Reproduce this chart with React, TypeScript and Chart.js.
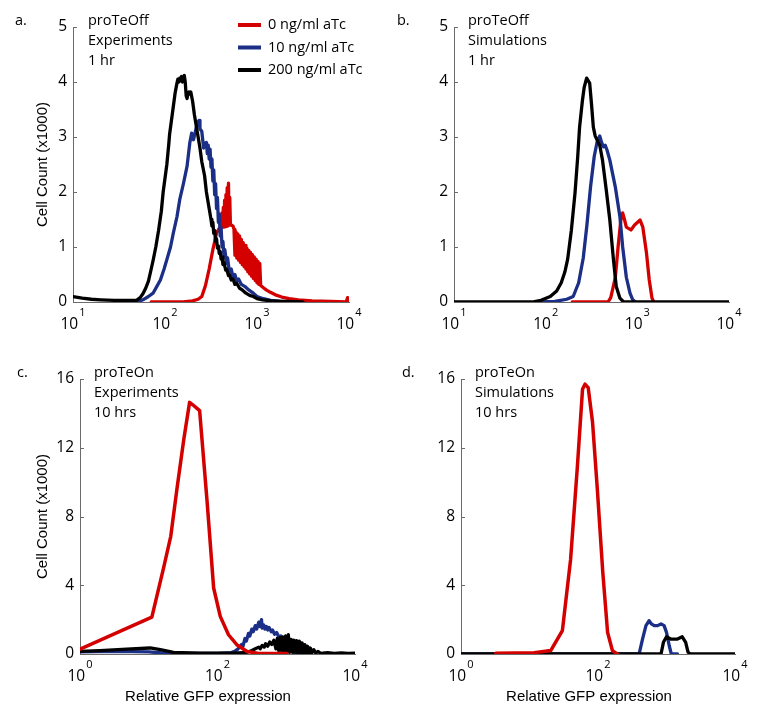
import React, { useEffect, useRef } from "react";
import { Chart, registerables } from "chart.js";

Chart.register(...registerables);

const RED = "#d40000";
const BLUE = "#1b2f86";
const BLACK = "#000000";
const AXIS = "#6b6b6b";

const SERIES_LABELS = ["0 ng/ml aTc", "10 ng/ml aTc", "200 ng/ml aTc"];
const X_TITLE = "Relative GFP expression";
const Y_TITLE = "Cell Count (x1000)";
const Y_TICKS_TOP = [0, 1, 2, 3, 4, 5];
const Y_TICKS_BOTTOM = [0, 4, 8, 12, 16];
const DECADES_TOP = [1, 2, 3, 4];
const DECADES_BOTTOM = [0, 2, 4];

// Each point: [log10 of relative GFP expression, cell count (x1000)]
// a. proTeOff Experiments 1 hr
const aRed: number[][] = [
  [1.85, 0], [2.2, 0], [2.3, 0.02], [2.36, 0.05], [2.4, 0.1], [2.44, 0.3], [2.48, 0.6], [2.52, 0.95],
  [2.56, 1.25], [2.59, 1.34], [2.605, 1.37],
  [2.62, 1.62], [2.627, 1.36], [2.634, 1.72], [2.641, 1.36], [2.648, 1.85], [2.655, 1.37], [2.662, 1.95],
  [2.669, 1.38], [2.676, 2.08], [2.683, 1.38], [2.69, 2.16], [2.697, 1.4], [2.704, 1.9], [2.711, 1.4],
  [2.72, 1.4], [2.74, 1.38],
  [2.75, 1.32], [2.76, 0.85], [2.77, 1.28], [2.78, 0.8], [2.79, 1.24], [2.8, 0.76], [2.81, 1.2], [2.82, 0.72],
  [2.83, 1.14], [2.84, 0.68], [2.85, 1.08], [2.86, 0.64], [2.87, 1.03], [2.88, 0.6], [2.89, 0.98], [2.9, 0.55],
  [2.91, 0.94], [2.92, 0.51], [2.93, 0.9], [2.94, 0.47], [2.95, 0.86], [2.96, 0.43], [2.97, 0.82], [2.98, 0.39],
  [2.99, 0.78], [3.0, 0.35], [3.01, 0.74], [3.02, 0.32], [3.03, 0.7], [3.04, 0.3],
  [3.07, 0.26], [3.1, 0.22], [3.14, 0.18], [3.2, 0.13], [3.27, 0.09], [3.35, 0.06], [3.45, 0.04], [3.6, 0.02],
  [3.8, 0.01], [3.97, 0], [3.985, 0.08], [3.995, 0.02], [4.0, 0],
];
const aBlue: number[][] = [
  [1.7, 0], [1.76, 0.04], [1.82, 0.1], [1.87, 0.16], [1.91, 0.28], [1.95, 0.4], [1.99, 0.6], [2.02, 0.77],
  [2.06, 1.0], [2.09, 1.25], [2.13, 1.55], [2.16, 1.86], [2.2, 2.15], [2.24, 2.47], [2.27, 2.9], [2.29, 3.07],
  [2.31, 2.95], [2.33, 3.1], [2.35, 3.25], [2.37, 3.3], [2.38, 3.15], [2.4, 3.1], [2.42, 2.8], [2.43, 2.88],
  [2.45, 2.9], [2.46, 2.7], [2.47, 2.85], [2.48, 2.6], [2.49, 2.78], [2.5, 2.45], [2.51, 2.6], [2.52, 2.2],
  [2.53, 2.4], [2.54, 1.95], [2.55, 2.15], [2.56, 1.7], [2.57, 1.9], [2.58, 1.45], [2.59, 1.6], [2.6, 1.2],
  [2.61, 1.35], [2.62, 1.0], [2.63, 1.1], [2.64, 0.85], [2.65, 0.95], [2.67, 0.7], [2.68, 0.8], [2.7, 0.55],
  [2.72, 0.6], [2.74, 0.45], [2.76, 0.5], [2.78, 0.38], [2.8, 0.42], [2.83, 0.32], [2.87, 0.28], [2.91, 0.22],
  [2.96, 0.16], [3.0, 0.1], [3.07, 0.06], [3.15, 0.03], [3.25, 0.01], [3.36, 0],
];
const aBlack: number[][] = [
  [1.0, 0.1], [1.1, 0.07], [1.2, 0.05], [1.3, 0.04], [1.45, 0.03], [1.6, 0.03], [1.69, 0.03], [1.73, 0.08],
  [1.76, 0.15], [1.79, 0.25], [1.82, 0.38], [1.85, 0.6], [1.87, 0.75], [1.9, 1.0], [1.93, 1.3], [1.96, 1.65],
  [1.98, 2.0], [2.0, 2.25], [2.02, 2.5], [2.04, 2.85], [2.05, 3.05], [2.07, 3.3], [2.09, 3.55], [2.11, 3.8],
  [2.13, 3.98], [2.14, 4.05], [2.15, 4.0], [2.16, 4.07], [2.17, 4.02], [2.18, 4.1], [2.19, 4.0], [2.2, 4.08],
  [2.21, 4.12], [2.22, 4.0], [2.23, 3.75], [2.24, 3.7], [2.25, 3.8], [2.26, 3.82], [2.27, 3.78], [2.28, 3.82],
  [2.3, 3.65], [2.32, 3.4], [2.34, 3.2], [2.36, 3.0], [2.38, 2.8], [2.4, 2.55], [2.43, 2.3], [2.45, 2.0],
  [2.47, 1.8], [2.49, 1.6], [2.5, 1.5], [2.51, 1.38], [2.52, 1.45], [2.53, 1.25], [2.54, 1.3], [2.55, 1.1],
  [2.56, 1.15], [2.57, 0.98], [2.58, 1.02], [2.59, 0.88], [2.6, 0.92], [2.61, 0.78], [2.62, 0.82], [2.63, 0.68],
  [2.64, 0.72], [2.66, 0.58], [2.67, 0.6], [2.69, 0.48], [2.7, 0.5], [2.72, 0.4], [2.74, 0.42], [2.76, 0.32],
  [2.78, 0.34], [2.81, 0.25], [2.84, 0.22], [2.88, 0.16], [2.92, 0.12], [2.96, 0.1], [3.0, 0.06], [3.06, 0.04],
  [3.15, 0.02], [3.3, 0.01], [3.5, 0],
];

// b. proTeOff Simulations 1 hr
const bRed: number[][] = [
  [2.29, 0], [2.68, 0], [2.71, 0.08], [2.74, 0.3], [2.76, 0.45], [2.79, 1.0], [2.82, 1.49], [2.84, 1.62],
  [2.86, 1.5], [2.88, 1.36], [2.93, 1.31], [2.97, 1.4], [3.03, 1.49], [3.06, 1.36], [3.1, 0.89], [3.13, 0.4],
  [3.16, 0.07], [3.18, 0],
];
const bBlue: number[][] = [
  [1.95, 0], [2.1, 0.01], [2.23, 0.05], [2.3, 0.1], [2.36, 0.35], [2.41, 0.8], [2.45, 1.4], [2.49, 2.1],
  [2.53, 2.65], [2.56, 2.9], [2.59, 3.02], [2.61, 2.9], [2.63, 2.82], [2.65, 2.85], [2.67, 2.76], [2.7, 2.58],
  [2.76, 2.09], [2.81, 1.55], [2.84, 1.0], [2.88, 0.45], [2.92, 0.16], [2.95, 0.04], [2.98, 0],
];
const bBlack: number[][] = [
  [1.0, 0], [1.85, 0], [1.95, 0.03], [2.05, 0.1], [2.12, 0.2], [2.17, 0.35], [2.21, 0.55], [2.24, 0.78],
  [2.28, 1.3], [2.32, 1.98], [2.35, 2.65], [2.37, 3.18], [2.4, 3.65], [2.42, 3.9], [2.447, 4.07], [2.48, 3.98],
  [2.5, 3.6], [2.52, 3.18], [2.54, 3.02], [2.56, 2.95], [2.59, 2.85], [2.62, 2.58], [2.66, 2.05], [2.7, 1.49],
  [2.74, 0.76], [2.77, 0.28], [2.81, 0.07], [2.85, 0], [4.0, 0],
];

// c. proTeOn Experiments 10 hrs
const cRed: number[][] = [
  [0, 0.28], [1.045, 2.15], [1.215, 5.0], [1.32, 6.85], [1.41, 9.6], [1.51, 12.5], [1.594, 14.64], [1.64, 14.5],
  [1.74, 14.16], [1.85, 8.8], [1.944, 3.84], [2.04, 2.19], [2.16, 1.12], [2.28, 0.54], [2.43, 0.15], [2.6, 0.03],
  [3.01, 0.03],
];
const cBlue: number[][] = [
  [0, 0.12], [0.5, 0.15], [1.0, 0.12], [1.2, 0.06], [1.5, 0.03], [2.0, 0.03], [2.2, 0.08], [2.25, 0.15],
  [2.3, 0.3], [2.35, 0.55], [2.37, 0.45], [2.4, 0.9], [2.42, 0.75], [2.45, 1.2], [2.47, 1.05], [2.5, 1.45],
  [2.52, 1.3], [2.55, 1.65], [2.57, 1.45], [2.6, 1.85], [2.62, 1.6], [2.64, 2.0], [2.65, 1.5], [2.67, 1.7],
  [2.69, 1.45], [2.71, 1.6], [2.73, 1.4], [2.75, 1.55], [2.78, 1.3], [2.8, 1.4], [2.83, 1.15], [2.86, 1.25],
  [2.89, 1.0], [2.92, 1.05], [2.95, 0.8], [2.98, 0.75], [3.01, 0.5], [3.06, 0.25], [3.11, 0.1], [3.2, 0.03],
  [3.3, 0],
];
const cBlack: number[][] = [
  [0, 0.15], [0.29, 0.2], [0.68, 0.28], [1.02, 0.35], [1.17, 0.25], [1.36, 0.1], [1.75, 0.05], [2.24, 0.05],
  [2.43, 0.1], [2.5, 0.2], [2.55, 0.3], [2.6, 0.4], [2.62, 0.3], [2.65, 0.5], [2.68, 0.4], [2.7, 0.6],
  [2.73, 0.45], [2.76, 0.7], [2.79, 0.55], [2.82, 0.8], [2.85, 0.3], [2.87, 0.9], [2.89, 0.2], [2.91, 0.95],
  [2.93, 0.2], [2.95, 1.0], [2.97, 0.15], [2.99, 1.05], [3.01, 0.15], [3.03, 1.12], [3.05, 0.1], [3.07, 0.85],
  [3.09, 0.1], [3.11, 0.8], [3.13, 0.1], [3.15, 0.78], [3.17, 0.08], [3.19, 0.75], [3.21, 0.08], [3.23, 0.65],
  [3.25, 0.06], [3.27, 0.55], [3.29, 0.06], [3.31, 0.45], [3.33, 0.05], [3.35, 0.35], [3.37, 0.05], [3.4, 0.25],
  [3.43, 0.05], [3.46, 0.15], [3.5, 0.04], [3.6, 0.08], [3.7, 0.04], [3.8, 0.06], [3.9, 0.04], [4.0, 0.05],
];

// d. proTeOn Simulations 10 hrs
const dRed: number[][] = [
  [0.51, 0.05], [1.07, 0.08], [1.31, 0.2], [1.48, 1.36], [1.6, 5.5], [1.7, 10.96], [1.774, 15.4], [1.81, 15.7],
  [1.857, 15.5], [1.92, 13.5], [1.99, 9.6], [2.07, 4.75], [2.14, 1.26], [2.21, 0.2], [2.28, 0],
];
const dBlue: number[][] = [
  [0, 0], [2.6, 0], [2.65, 0.87], [2.7, 1.65], [2.746, 1.94], [2.78, 1.75], [2.82, 1.65], [2.87, 1.65],
  [2.92, 1.75], [2.965, 1.65], [3.0, 1.26], [3.04, 0.48], [3.07, 0], [3.16, 0],
];
const dBlack: number[][] = [
  [0, 0], [2.92, 0], [2.955, 0.68], [3.0, 1.0], [3.06, 0.87], [3.16, 0.87], [3.23, 1.0], [3.28, 0.68],
  [3.315, 0.1], [3.35, 0], [4.0, 0],
];

type Series = { data: number[][]; color: string; label: string; order: number; width: number };
type PanelCfg = {
  left: number; top: number; width: number; height: number;
  area: { l: number; t: number; r: number; b: number };
  decades: number[]; yTicks: number[];
  series: Series[];
  letter: string; letterPos: [number, number];
  notes: string[]; notesPos: [number, number];
  legend: boolean; yTitle: boolean; xTitle: boolean;
};

const TICK_FONT = '"Open Sans", sans-serif';
const NOTE_FONT = '14.5px "Open Sans", sans-serif';
const TITLE_FAMILY = '"Liberation Sans", Arial, sans-serif';

function overlayPlugin(cfg: PanelCfg) {
  return {
    id: "overlay" + cfg.letter,
    afterDraw(chart: any) {
      const ctx = chart.ctx as CanvasRenderingContext2D;
      const { left, bottom } = chart.chartArea;
      const xs = chart.scales.x;
      const ys = chart.scales.y;
      ctx.save();
      // inward y ticks
      ctx.strokeStyle = AXIS;
      ctx.lineWidth = 1;
      ys.ticks.forEach((t: any) => {
        const py = Math.round(ys.getPixelForValue(t.value)) + 0.5;
        ctx.beginPath();
        ctx.moveTo(left, py);
        ctx.lineTo(left + 4, py);
        ctx.stroke();
      });
      // x tick labels: 10^n
      ctx.fillStyle = "#000";
      ctx.textBaseline = "middle";
      ctx.textAlign = "left";
      cfg.decades.forEach((e) => {
        const px = xs.getPixelForValue(Math.pow(10, e));
        ctx.font = `15.5px ${TICK_FONT}`;
        const w10 = ctx.measureText("10").width;
        ctx.font = `11px ${TICK_FONT}`;
        const we = ctx.measureText(String(e)).width;
        const x0 = px - (w10 + 1 + we) / 2;
        ctx.font = `15.5px ${TICK_FONT}`;
        ctx.fillText("10", x0, bottom + 23);
        ctx.font = `11px ${TICK_FONT}`;
        ctx.fillText(String(e), x0 + w10 + 1, bottom + 11);
      });
      // panel letter and notes
      ctx.font = NOTE_FONT;
      ctx.fillText(cfg.letter, cfg.letterPos[0], cfg.letterPos[1]);
      cfg.notes.forEach((n, i) => ctx.fillText(n, cfg.notesPos[0], cfg.notesPos[1] + i * 20));
      // legend
      if (cfg.legend) {
        cfg.series.forEach((s, i) => {
          const y = 25 + i * 22.5;
          ctx.strokeStyle = s.color;
          ctx.lineWidth = 4;
          ctx.beginPath();
          ctx.moveTo(238, y);
          ctx.lineTo(261, y);
          ctx.stroke();
          ctx.fillStyle = "#000";
          ctx.font = NOTE_FONT;
          ctx.fillText(s.label, 268, y);
        });
      }
      // x axis title
      if (cfg.xTitle) {
        ctx.font = `15px ${TITLE_FAMILY}`;
        ctx.textAlign = "center";
        ctx.fillStyle = "#000";
        ctx.fillText(X_TITLE, left + 128, bottom + 43);
      }
      ctx.restore();
    },
  };
}

function Panel({ cfg }: { cfg: PanelCfg }) {
  const ref = useRef<HTMLCanvasElement>(null);
  useEffect(() => {
    const canvas = ref.current;
    if (!canvas) return;
    const yMax = cfg.yTicks[cfg.yTicks.length - 1];
    const chart = new Chart(canvas, {
      type: "line",
      data: {
        datasets: cfg.series.map((s) => ({
          label: s.label,
          data: s.data.map(([e, c]) => ({ x: Math.pow(10, e), y: c })),
          borderColor: s.color,
          backgroundColor: s.color,
          borderWidth: s.width,
          pointRadius: 0,
          pointHoverRadius: 0,
          tension: 0,
          fill: false,
          order: s.order,
          borderJoinStyle: "round",
          borderCapStyle: "round",
        })),
      },
      options: {
        animation: false,
        responsive: false,
        maintainAspectRatio: false,
        events: [],
        layout: { padding: { left: 0, top: cfg.area.t, right: cfg.width - cfg.area.r, bottom: 0 } },
        plugins: { legend: { display: false }, tooltip: { enabled: false } },
        scales: {
          x: {
            type: "logarithmic",
            min: Math.pow(10, cfg.decades[0]),
            max: Math.pow(10, cfg.decades[cfg.decades.length - 1]),
            grid: { display: false },
            border: { display: true, color: AXIS, width: 1 },
            ticks: { display: false },
            afterFit: (s: any) => {
              s.height = cfg.height - cfg.area.b;
            },
          },
          y: {
            type: "linear",
            min: 0,
            max: yMax,
            afterBuildTicks: (s: any) => {
              s.ticks = cfg.yTicks.map((v) => ({ value: v }));
            },
            ticks: {
              font: { family: TICK_FONT, size: 15.5 },
              color: "#000",
              padding: 6,
            },
            grid: { display: false, drawTicks: false },
            border: { display: true, color: AXIS, width: 1 },
            title: {
              display: cfg.yTitle,
              text: Y_TITLE,
              color: "#000",
              font: { family: TITLE_FAMILY, size: 15 },
              padding: { top: 34, bottom: 0 },
            },
            afterFit: (s: any) => {
              s.width = cfg.area.l;
            },
          },
        },
      } as any,
      plugins: [overlayPlugin(cfg) as any],
    });
    return () => chart.destroy();
  }, [cfg]);
  return (
    <canvas
      ref={ref}
      width={cfg.width}
      height={cfg.height}
      style={{ position: "absolute", left: cfg.left, top: cfg.top, width: cfg.width, height: cfg.height }}
    />
  );
}

const PANELS: PanelCfg[] = [
  {
    left: 0, top: 0, width: 381, height: 340,
    area: { l: 73, t: 27, r: 349, b: 302 },
    decades: DECADES_TOP, yTicks: Y_TICKS_TOP,
    series: [
      { data: aRed, color: RED, label: SERIES_LABELS[0], order: 2, width: 3.3 },
      { data: aBlue, color: BLUE, label: SERIES_LABELS[1], order: 1, width: 3.3 },
      { data: aBlack, color: BLACK, label: SERIES_LABELS[2], order: 0, width: 3.3 },
    ],
    letter: "a.", letterPos: [15, 21],
    notes: ["proTeOff", "Experiments", "1 hr"], notesPos: [88, 21],
    legend: true, yTitle: true, xTitle: false,
  },
  {
    left: 381, top: 0, width: 381, height: 340,
    area: { l: 73, t: 27, r: 348, b: 302 },
    decades: DECADES_TOP, yTicks: Y_TICKS_TOP,
    series: [
      { data: bRed, color: RED, label: SERIES_LABELS[0], order: 2, width: 3.3 },
      { data: bBlue, color: BLUE, label: SERIES_LABELS[1], order: 1, width: 3.3 },
      { data: bBlack, color: BLACK, label: SERIES_LABELS[2], order: 0, width: 3.3 },
    ],
    letter: "b.", letterPos: [16, 21],
    notes: ["proTeOff", "Simulations", "1 hr"], notesPos: [87, 21],
    legend: false, yTitle: false, xTitle: false,
  },
  {
    left: 0, top: 340, width: 381, height: 377,
    area: { l: 80, t: 39, r: 355, b: 314 },
    decades: DECADES_BOTTOM, yTicks: Y_TICKS_BOTTOM,
    series: [
      { data: cRed, color: RED, label: SERIES_LABELS[0], order: 0, width: 3.5 },
      { data: cBlue, color: BLUE, label: SERIES_LABELS[1], order: 2, width: 3.3 },
      { data: cBlack, color: BLACK, label: SERIES_LABELS[2], order: 1, width: 3.3 },
    ],
    letter: "c.", letterPos: [17, 33],
    notes: ["proTeOn", "Experiments", "10 hrs"], notesPos: [94, 33],
    legend: false, yTitle: true, xTitle: true,
  },
  {
    left: 381, top: 340, width: 381, height: 377,
    area: { l: 80, t: 39, r: 354, b: 314 },
    decades: DECADES_BOTTOM, yTicks: Y_TICKS_BOTTOM,
    series: [
      { data: dRed, color: RED, label: SERIES_LABELS[0], order: 0, width: 3.5 },
      { data: dBlue, color: BLUE, label: SERIES_LABELS[1], order: 2, width: 3.3 },
      { data: dBlack, color: BLACK, label: SERIES_LABELS[2], order: 1, width: 3.3 },
    ],
    letter: "d.", letterPos: [21, 33],
    notes: ["proTeOn", "Simulations", "10 hrs"], notesPos: [94, 33],
    legend: false, yTitle: false, xTitle: true,
  },
];

export default function App() {
  return (
    <div style={{ position: "absolute", left: 0, top: 0, width: 762, height: 717, background: "#fff" }}>
      {PANELS.map((p) => (
        <Panel key={p.letter} cfg={p} />
      ))}
    </div>
  );
}
